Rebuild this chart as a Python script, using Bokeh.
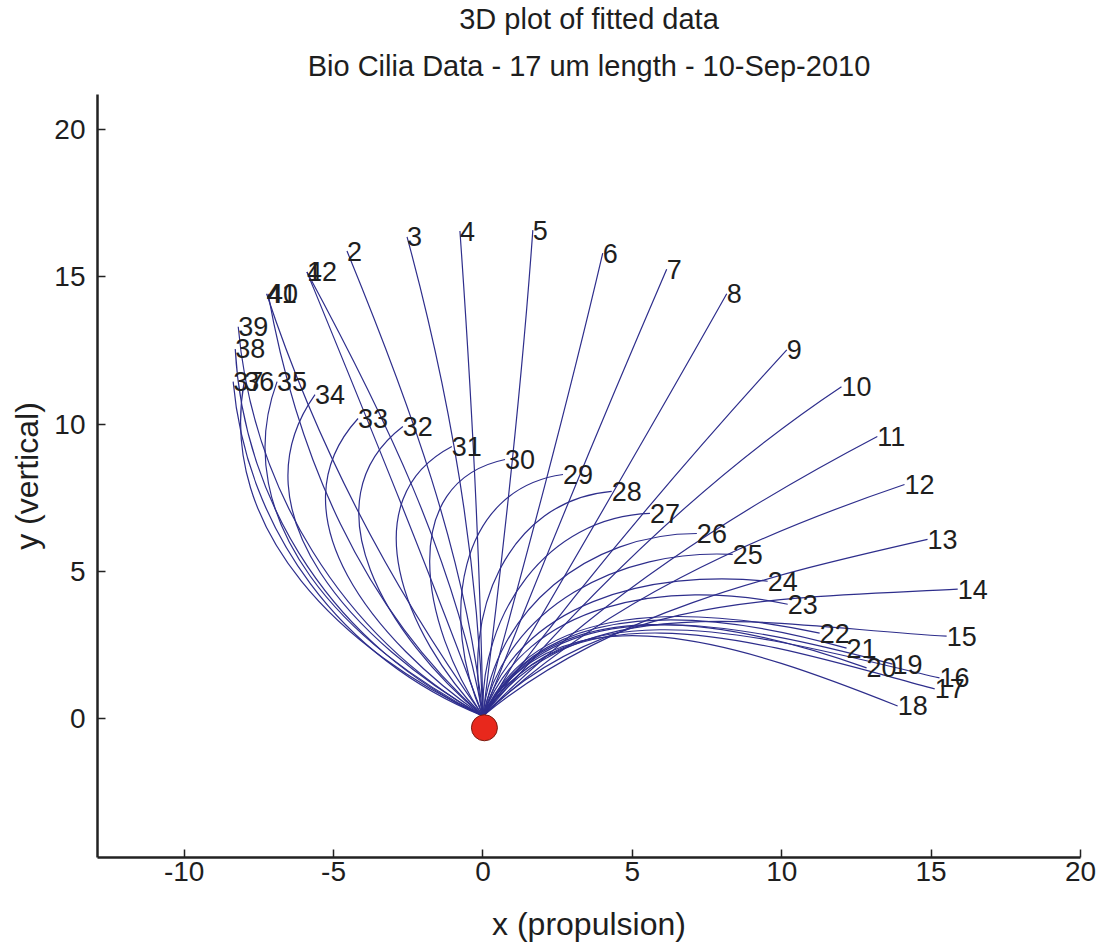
import math
from bokeh.plotting import figure
from bokeh.models import Range1d, Title, ColumnDataSource, FixedTicker
from bokeh.embed import file_html
from bokeh.resources import INLINE
from bokeh.core.properties import value

# ---- data ----
labels = [str(i) for i in range(1, 43)]
tip_x = [-5.89, -4.55, -2.54, -0.77, 1.67, 4.01, 6.15, 8.16, 10.17, 12.00,
         13.20, 14.11, 14.88, 15.89, 15.52, 15.28, 15.12, 13.88, 13.71, 12.84,
         12.17, 11.27, 10.20, 9.53, 8.36, 7.16, 5.59, 4.31, 2.68, 0.74,
         -1.04, -2.68, -4.18, -5.62, -6.89, -7.99, -8.36, -8.29, -8.19, -7.19,
         -7.24, -5.89]
tip_y = [15.16, 15.87, 16.35, 16.55, 16.58, 15.80, 15.25, 14.42, 12.52, 11.27,
         9.58, 7.95, 6.09, 4.40, 2.81, 1.39, 1.02, 0.44, 1.86, 1.73,
         2.40, 2.91, 3.89, 4.67, 5.58, 6.29, 6.97, 7.72, 8.29, 8.80,
         9.24, 9.92, 10.19, 11.00, 11.44, 11.44, 11.44, 12.55, 13.30, 14.42,
         14.42, 15.16]
# direction of each fitted cilium at its base and at its tip (degrees)
base_angle = [100, 96, 92, 91, 83, 75, 69, 60, 54, 50,
              46, 44, 40, 46, 55, 58, 58, 62, 62, 63,
              64, 66, 70, 74, 78, 84, 92, 102, 114, 124,
              134, 140, 145, 150, 153, 155, 158, 155, 150, 138,
              125, 110]
tip_angle = [118, 112, 105, 94, 86, 77, 67, 61, 48, 34,
             28, 19, 13, 3, -3, -13, -15, -22, -15, -20,
             -16, -12, -12, -6, -3, 0, 2, 5, 8, 12,
             28, 38, 48, 55, 70, 80, 95, 93, 95, 100,
             108, 112]
base_x, base_y = 0.0, 0.1
dot_x, dot_y = [0.05], [-0.3]
x_ticks = [-10, -5, 0, 5, 10, 15, 20]
y_ticks = [0, 5, 10, 15, 20]
title_lines = ["3D plot of fitted data", "Bio Cilia Data - 17 um length - 10-Sep-2010"]

# ---- control points of each curve (cubic Bezier through base & tip tangents) ----
cx0, cy0, cx1, cy1 = [], [], [], []
for tx, ty, a, b in zip(tip_x, tip_y, base_angle, tip_angle):
    chord = math.hypot(tx - base_x, ty - base_y)
    th = abs(math.radians(a - b))
    k = 1 / 3 if th < 1e-3 else (2 / 3) * math.tan(th / 4) / math.sin(th / 2)
    h = k * chord
    ar, br = math.radians(a), math.radians(b)
    cx0.append(base_x + h * math.cos(ar)); cy0.append(base_y + h * math.sin(ar))
    cx1.append(tx - h * math.cos(br)); cy1.append(ty - h * math.sin(br))

src = ColumnDataSource(dict(x0=[base_x] * len(tip_x), y0=[base_y] * len(tip_x),
                            x1=tip_x, y1=tip_y, cx0=cx0, cy0=cy0, cx1=cx1, cy1=cy1,
                            lab=labels))

FONT = "Liberation Sans"
p = figure(width=1100, height=949, x_range=Range1d(-12.9, 20.0), y_range=Range1d(-4.7, 21.18),
           output_backend="svg", toolbar_location=None,
           min_border_left=97, min_border_right=20, min_border_top=92, min_border_bottom=92)
p.outline_line_color = None
p.xgrid.visible = False
p.ygrid.visible = False
p.background_fill_color = "white"
p.border_fill_color = "white"

p.bezier(x0="x0", y0="y0", x1="x1", y1="y1", cx0="cx0", cy0="cy0", cx1="cx1", cy1="cy1",
         source=src, line_color="#2e2e8c", line_width=1.2)
p.text(x="x1", y="y1", text="lab", source=src, text_align="left", text_baseline="middle",
       text_font=value(FONT), text_font_size="27px", text_color="#1e1e1e")
p.scatter(x=dot_x, y=dot_y, size=26, fill_color="#e8281c", line_color="#7a1b10", line_width=1)

for ax, ticks in ((p.xaxis, x_ticks), (p.yaxis, y_ticks)):
    ax.ticker = FixedTicker(ticks=ticks)
    ax.major_label_overrides = {t: str(t) for t in ticks}
    ax.major_tick_in = 8
    ax.major_tick_out = 0
    ax.minor_tick_line_color = None
    ax.axis_line_width = 2.5
    ax.axis_line_color = "#222222"
    ax.major_tick_line_color = "#222222"
    ax.major_tick_line_width = 1.5
    ax.major_label_text_font = FONT
    ax.major_label_text_font_size = "28px"
    ax.major_label_text_color = "#1e1e1e"
    ax.axis_label_text_font = FONT
    ax.axis_label_text_font_size = "32px"
    ax.axis_label_text_font_style = "normal"
    ax.axis_label_text_color = "#1e1e1e"

p.xaxis.axis_label = "x (propulsion)"
p.yaxis.axis_label = "y (vertical)"
p.xaxis.major_label_standoff = 4
p.xaxis.axis_label_standoff = 22
p.yaxis.major_label_standoff = 12
p.yaxis.axis_label_standoff = 6

p.add_layout(Title(text=title_lines[1], align="center",
                   text_font=FONT, text_font_size="29px", text_font_style="normal",
                   text_color="#1e1e1e", standoff=26), "above")
p.add_layout(Title(text=title_lines[0], align="center",
                   text_font=FONT, text_font_size="29px", text_font_style="normal",
                   text_color="#1e1e1e", standoff=0), "above")

open("out.html", "w").write(file_html(p, INLINE))
